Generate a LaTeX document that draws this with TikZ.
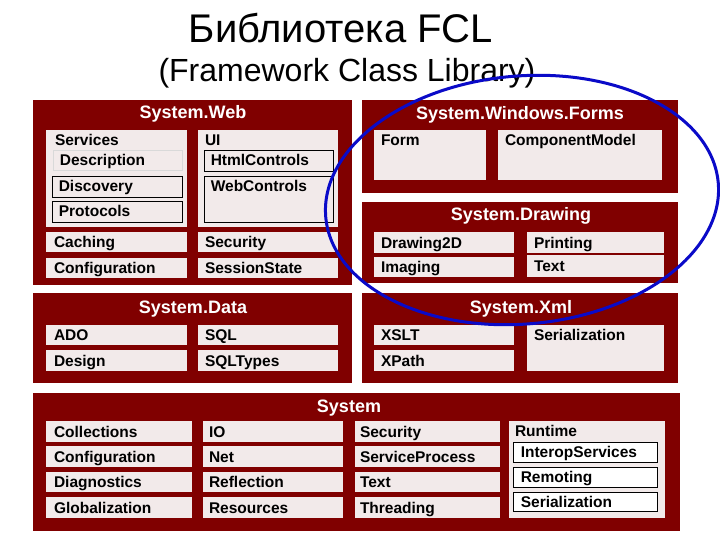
\documentclass[tikz,border=0pt]{standalone}
\usepackage{fontspec}
\setmainfont{Liberation Sans}
\definecolor{darkred}{RGB}{128,0,0}
\definecolor{lightbg}{RGB}{242,234,234}
\definecolor{ellblue}{RGB}{10,10,200}
\newcommand\mkbox[6]{\node[#1, minimum width={(#5-#3)*1pt}, minimum height={(#6-#4)*1pt}] (#2) at ({(#3+#5)/2},{(#4+#6)/2}) {};}
\newcommand\mktext[3]{\node[itemtxt, anchor=west] (#1-t) at ([xshift=#2pt]#1.west) {#3};}
\newcommand\mktop[3]{\node[itemtxt, anchor=base west] (#1-t) at ([xshift=#2pt,yshift=-15.5pt]#1.north west) {#3};}
\tikzset{
  outer/.style={fill=darkred, inner sep=0pt, draw=none},
  item/.style={fill=lightbg, inner sep=0pt, draw=none},
  sub/.style={fill=lightbg, inner sep=0pt, draw=black, line width=0.8pt},
  subw/.style={fill=white, inner sep=0pt, draw=black, line width=0.8pt},
  faint/.style={fill=lightbg, inner sep=0pt, draw=black!15, line width=0.6pt},
  itemtxt/.style={inner sep=0pt, text height=12pt, text depth=1pt, font=\bfseries\fontsize{15.5}{17}\selectfont},
  ttl/.style={inner sep=0pt, text=white, text height=13pt, text depth=0pt, font=\bfseries\fontsize{18}{20}\selectfont}
}
\begin{document}
\begin{tikzpicture}[x=1pt,y=-1pt]
\useasboundingbox[fill=white] (0,0) rectangle (720,540);
% headings
\node[anchor=base, inner sep=0pt, font=\fontsize{40}{44}\selectfont] (h1) at (341,43) {Библиотека FCL};
\node[anchor=base, inner sep=0pt, font=\fontsize{32}{36}\selectfont] (h2) at (347,82) {(Framework Class Library)};
% System.Web
\mkbox{outer}{web}{33}{100}{352}{285}
\node[ttl] (web-t) at (193,112) {System.Web};
\mkbox{item}{services}{46}{130}{187}{227}
\mktop{services}{9}{Services}
\mkbox{faint}{descr}{53}{150}{182}{170}
\mktext{descr}{7}{Description}
\mkbox{sub}{disc}{52}{176}{182}{197}
\mktext{disc}{7}{Discovery}
\mkbox{sub}{proto}{52}{201}{182}{222}
\mktext{proto}{7}{Protocols}
\mkbox{item}{ui}{198}{130}{338}{227}
\mktop{ui}{7}{UI}
\mkbox{sub}{html}{204}{150}{333}{171}
\mktext{html}{7}{HtmlControls}
\mkbox{sub}{webc}{204}{176}{333}{222}
\mktop{webc}{7}{WebControls}
\mkbox{item}{caching}{46}{232}{187}{252}
\mktext{caching}{8}{Caching}
\mkbox{item}{wsec}{198}{232}{338}{252}
\mktext{wsec}{7}{Security}
\mkbox{item}{wconf}{46}{258}{187}{278}
\mktext{wconf}{8}{Configuration}
\mkbox{item}{sess}{198}{258}{338}{278}
\mktext{sess}{7}{SessionState}
% System.Windows.Forms
\mkbox{outer}{wf}{362}{100}{678}{193}
\node[ttl] (wf-t) at (520,113) {System.Windows.Forms};
\mkbox{item}{form}{374}{130}{486}{180}
\mktop{form}{7}{Form}
\mkbox{item}{comp}{498}{130}{662}{180}
\mktop{comp}{7}{ComponentModel}
% System.Drawing
\mkbox{outer}{dr}{362}{202}{678}{283}
\node[ttl] (dr-t) at (521,214) {System.Drawing};
\mkbox{item}{d2d}{374}{232}{514}{253}
\mktext{d2d}{7}{Drawing2D}
\mkbox{item}{print}{527}{232}{664}{253}
\mktext{print}{7}{Printing}
\mkbox{item}{imaging}{374}{257}{514}{277}
\mktext{imaging}{7}{Imaging}
\mkbox{item}{dtext}{527}{255}{664}{277}
\mktext{dtext}{7}{Text}
% System.Data
\mkbox{outer}{data}{33}{293}{352}{383}
\node[ttl] (data-t) at (193,307) {System.Data};
\mkbox{item}{ado}{46}{325}{187}{345}
\mktext{ado}{8}{ADO}
\mkbox{item}{sql}{198}{325}{338}{345}
\mktext{sql}{7}{SQL}
\mkbox{item}{design}{46}{350}{187}{371}
\mktext{design}{8}{Design}
\mkbox{item}{sqlt}{198}{350}{338}{371}
\mktext{sqlt}{7}{SQLTypes}
% System.Xml
\mkbox{outer}{xml}{362}{293}{678}{383}
\node[ttl] (xml-t) at (521,307) {System.Xml};
\mkbox{item}{xslt}{374}{325}{514}{345}
\mktext{xslt}{7}{XSLT}
\mkbox{item}{xpath}{374}{350}{514}{371}
\mktext{xpath}{7}{XPath}
\mkbox{item}{xser}{527}{325}{664}{371}
\mktop{xser}{7}{Serialization}
% System
\mkbox{outer}{sys}{33}{393}{680}{531}
\node[ttl] (sys-t) at (349,406) {System};
\mkbox{item}{coll}{46}{421}{192}{442}
\mktext{coll}{8}{Collections}
\mkbox{item}{sconf}{46}{446}{192}{467}
\mktext{sconf}{8}{Configuration}
\mkbox{item}{diag}{46}{472}{192}{492}
\mktext{diag}{8}{Diagnostics}
\mkbox{item}{glob}{46}{497}{192}{518}
\mktext{glob}{8}{Globalization}
\mkbox{item}{io}{203}{421}{343}{442}
\mktext{io}{6}{IO}
\mkbox{item}{net}{203}{446}{343}{467}
\mktext{net}{6}{Net}
\mkbox{item}{refl}{203}{472}{343}{492}
\mktext{refl}{6}{Reflection}
\mkbox{item}{res}{203}{497}{343}{518}
\mktext{res}{6}{Resources}
\mkbox{item}{ssec}{355}{421}{500}{442}
\mktext{ssec}{5}{Security}
\mkbox{item}{svcp}{355}{446}{500}{467}
\mktext{svcp}{5}{ServiceProcess}
\mkbox{item}{stext}{355}{472}{500}{492}
\mktext{stext}{5}{Text}
\mkbox{item}{thr}{355}{497}{500}{518}
\mktext{thr}{5}{Threading}
\mkbox{item}{rt}{509}{421}{665}{518}
\mktop{rt}{6}{Runtime}
\mkbox{subw}{interop}{513}{442}{657}{462}
\mktext{interop}{8}{InteropServices}
\mkbox{subw}{remot}{513}{467}{657}{487}
\mktext{remot}{8}{Remoting}
\mkbox{subw}{rser}{513}{492}{657}{511}
\mktext{rser}{8}{Serialization}
% blue ellipse
\draw[ellblue, line width=3pt, rotate around={5:(522,200)}] (522,200) ellipse [x radius=197, y radius=124];
\end{tikzpicture}
\end{document}
